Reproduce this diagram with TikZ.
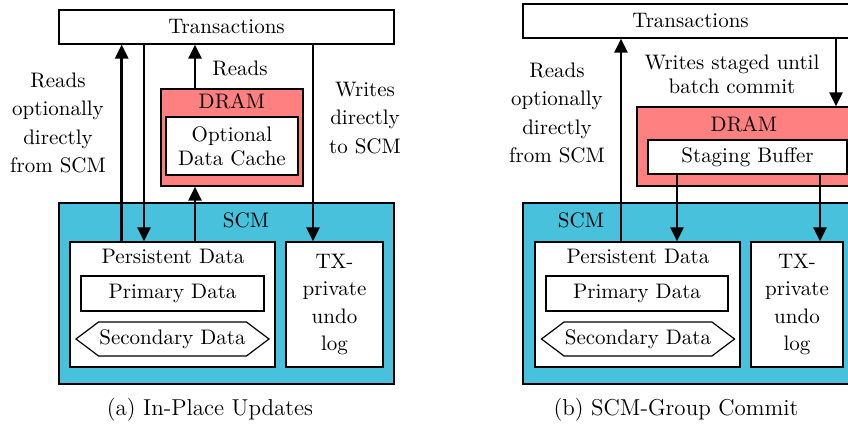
\documentclass[tikz,border=0pt]{standalone}
\usepackage{tikz}
\usetikzlibrary{arrows.meta, shapes.symbols}

\definecolor{dramred}{RGB}{255,128,128}
\definecolor{scmcyan}{RGB}{72,194,220}

\begin{document}
\begin{tikzpicture}[x=0.5pt, y=-0.5pt, font=\fontsize{10.5}{12}\selectfont,
  box/.style={draw, line width=0.6pt, fill=white, inner sep=0pt, align=center},
  secbox/.style={signal, signal to=west and east, signal pointer angle=74,
    draw, line width=0.6pt, fill=white, inner sep=0pt,
    minimum width=96.5pt, minimum height=17pt},
  flow/.style={line width=1.3pt, -{Triangle[length=7pt, width=6.5pt]}},
  lbl/.style={align=center, inner sep=0pt}]

\useasboundingbox (0,0) rectangle (848,428);
\clip (0,0) rectangle (848,428);

% ── (a) In-Place Updates ────────────────────────────────────
\node[box, minimum width=167.5pt, minimum height=17pt] (trA) at (226.5,27) {Transactions};
\node[box, fill=scmcyan, minimum width=167.5pt, minimum height=90.5pt] (scmA) at (226.5,293.5) {};
\node[lbl] (scmAlbl) at (246,220) {SCM};
\node[box, minimum width=102.5pt, minimum height=62.5pt] (pdA) at (172.5,304.5) {};
\node[lbl] (pdAlbl) at (173,256) {Persistent Data};
\node[box, minimum width=91.5pt, minimum height=17.5pt] (primA) at (172.5,293.5) {Primary Data};
\node[secbox] (secA) at (172.5,339) {Secondary Data};
\node[box, minimum width=48.5pt, minimum height=62.5pt] (txA) at (334.5,304.5)
    {TX-\\[1.8pt]private\\[1.8pt]undo\\[1.8pt]log};
\node[box, fill=dramred, minimum width=71pt, minimum height=48.5pt] (dramA) at (232,137.5) {};
\node[lbl] (dramAlbl) at (232,101) {DRAM};
\node[box, minimum width=66pt, minimum height=29pt] (cacheA) at (232,146) {Optional\\Data Cache};

\node[lbl] (rdAtxt) at (58,123)
    {Reads\\[2.2pt]optionally\\[2.2pt]directly\\[2.2pt]from SCM};
\node[lbl] (rdBufA) at (240,68) {Reads};
\node[lbl] (wrAtxt) at (365,118) {Writes\\[2.2pt]directly\\[2.2pt]to SCM};

\coordinate (xA1) at (121.7,0);
\coordinate (xA2) at (144,0);
\coordinate (xA3) at (195,0);
\coordinate (xA4) at (313,0);
\draw[flow] (pdA.north -| xA1) -- (trA.south -| xA1);
\draw[flow] (trA.south -| xA2) -- (pdA.north -| xA2);
\draw[flow] (dramA.north -| xA3) -- (trA.south -| xA3);
\draw[flow] (pdA.north -| xA3) -- (dramA.south -| xA3);
\draw[flow] (trA.south -| xA4) -- (txA.north -| xA4);

\node[lbl, font=\fontsize{11.5}{13}\selectfont] (capA) at (210,410)
    {(a) In-Place Updates};

% ── (b) SCM-Group Commit ────────────────────────────────────
\node[box, minimum width=167.5pt, minimum height=17pt] (trB) at (690.5,21) {Transactions};
\node[box, fill=scmcyan, minimum width=167.5pt, minimum height=90.5pt] (scmB) at (690.5,293.5) {};
\node[lbl] (scmBlbl) at (581,220) {SCM};
\node[box, minimum width=102.5pt, minimum height=62.5pt] (pdB) at (637.5,304.5) {};
\node[lbl] (pdBlbl) at (638,256) {Persistent Data};
\node[box, minimum width=91pt, minimum height=17.5pt] (primB) at (637,293.5) {Primary Data};
\node[secbox] (secB) at (638,339) {Secondary Data};
\node[box, minimum width=46pt, minimum height=62.5pt] (txB) at (797,304.5)
    {TX-\\[1.8pt]private\\[1.8pt]undo\\[1.8pt]log};
\node[box, fill=dramred, minimum width=107.5pt, minimum height=39.5pt] (dramB) at (744.5,146.5) {};
\node[lbl] (dramBlbl) at (744,124) {DRAM};
\node[box, minimum width=99.5pt, minimum height=17pt] (stageB) at (747.5,157) {Staging Buffer};

\node[lbl] (rdBtxt) at (557,113)
    {Reads\\[2.2pt]optionally\\[2.2pt]directly\\[2.2pt]from SCM};
\node[lbl] (wrBtxt) at (732,74) {Writes staged until\\batch commit};

\coordinate (xB1) at (621,0);
\coordinate (xB2) at (677,0);
\coordinate (xB3) at (820,0);
\coordinate (xB4) at (836,0);
\draw[flow] (pdB.north -| xB1) -- (trB.south -| xB1);
\draw[flow] (trB.south -| xB4) -- (dramB.north -| xB4);
\draw[flow] (stageB.south -| xB2) -- (pdB.north -| xB2);
\draw[flow] (stageB.south -| xB3) -- (txB.north -| xB3);

\node[lbl, font=\fontsize{11.5}{13}\selectfont] (capB) at (676,410)
    {(b) SCM-Group Commit};

\end{tikzpicture}
\end{document}
